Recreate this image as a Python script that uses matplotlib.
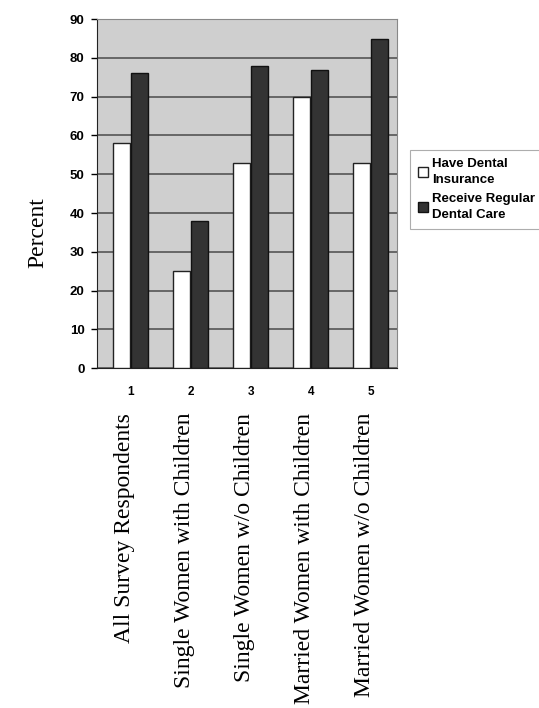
import matplotlib
matplotlib.use("Agg")
from matplotlib import pyplot as plt
import numpy as np

# data
groups = ["1", "2", "3", "4", "5"]
group_names = ["All Survey Respondents", "Single Women with Children",
               "Single Women w/o Children", "Married Women with Children",
               "Married Women w/o Children"]
insurance = [58, 25, 53, 70, 53]
regular_care = [76, 38, 78, 77, 85]

fig = plt.figure(figsize=(5.39, 7.08), dpi=100)
ax = fig.add_axes([0.18, 0.48, 0.557, 0.493])

x = np.arange(len(groups))
w = 0.28
shift = 0.06
ax.bar(x - w / 2 + shift - 0.01, insurance, w, color="white", edgecolor="#222222", linewidth=1.0,
       label="Have Dental\nInsurance", zorder=3)
ax.bar(x + w / 2 + shift + 0.01, regular_care, w, color="#333333", edgecolor="#111111", linewidth=1.0,
       label="Receive Regular\nDental Care", zorder=3)

ax.set_xlim(-0.5, 4.5)
ax.set_ylim(0, 90)
ax.set_yticks(range(0, 91, 10))
ax.set_facecolor("#cfcfcf")
ax.grid(axis="y", color="#555555", linewidth=1.2, zorder=1)
ax.set_axisbelow(True)
for s in ax.spines.values():
    s.set_color("#888888")
ax.spines["left"].set_color("#222222")
ax.spines["bottom"].set_color("#222222")

ax.set_xticks(x + shift)
ax.set_xticklabels(groups, fontsize=8.5, fontweight="bold", family="Liberation Sans")
ax.tick_params(axis="x", length=0, pad=13)
for t in ax.get_yticklabels():
    t.set_fontsize(9.5)
    t.set_fontweight("bold")
    t.set_family("Liberation Sans")
ax.tick_params(axis="y", length=4, width=1, pad=5)

# category names below the numbers
for i, name in enumerate(group_names):
    xf = (ax.transData.transform((i, 0))[0] - 3) / fig.bbox.width
    fig.text(xf, 0.417, name, rotation=90, ha="center", va="top",
             fontsize=17, family="Liberation Serif")

fig.text(0.07, 0.672, "Percent", rotation=90, ha="center", va="center",
         fontsize=17, family="Liberation Serif")

leg = ax.legend(loc="upper left", bbox_to_anchor=(1.02, 0.645), frameon=True,
                fancybox=False, prop={"family": "Liberation Sans", "weight": "bold", "size": 9.5},
                handlelength=0.8, handleheight=0.8, handletextpad=0.3, borderpad=0.6,
                labelspacing=0.5)
for t in leg.get_texts():
    t.set_linespacing(1.5)
leg.get_frame().set_edgecolor("#999999")
leg.get_frame().set_linewidth(0.8)

fig.savefig("out.png", dpi=100)
